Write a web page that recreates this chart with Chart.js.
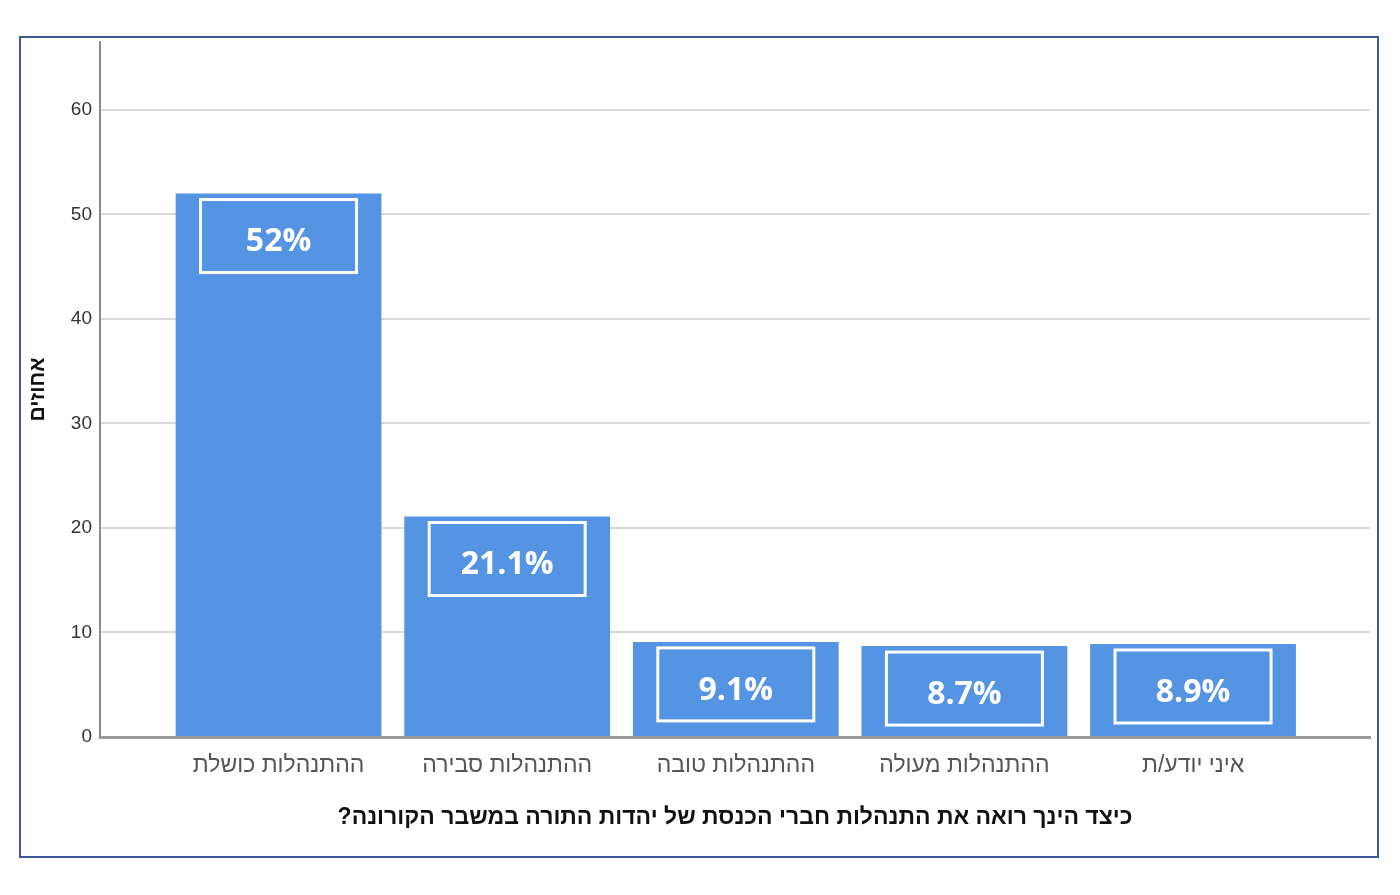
<!DOCTYPE html>
<html>
<head>
<meta charset="utf-8">
<script src="https://cdn.jsdelivr.net/npm/chart.js@4"></script>
<style>
  html, body { margin: 0; padding: 0; background: #fff; }
  #wrap { width: 1400px; height: 895px; position: relative; }
</style>
</head>
<body>
<div id="wrap"><canvas id="chart" dir="rtl" width="1400" height="895"></canvas></div>
<script>
const categories = ['ההתנהלות כושלת', 'ההתנהלות סבירה', 'ההתנהלות טובה', 'ההתנהלות מעולה', 'איני יודע/ת'];
const percents = [52, 21.1, 9.1, 8.7, 8.9];
const yTicks = [0, 10, 20, 30, 40, 50, 60];
const xTitle = 'כיצד הינך רואה את התנהלות חברי הכנסת של יהדות התורה במשבר הקורונה?';
const yTitle = 'אחוזים';

const hebFont = "'Liberation Sans Narrow', 'Liberation Sans', Arial, 'DejaVu Sans', sans-serif";

const frame = {
  id: 'frame',
  beforeDraw(chart) {
    const c = chart.ctx;
    c.save();
    c.strokeStyle = '#3b5a96';
    c.lineWidth = 2;
    c.strokeRect(20, 37, 1358, 820);
    c.restore();
  },
};

const boxLabels = {
  id: 'boxLabels',
  afterDatasetsDraw(chart) {
    const c = chart.ctx;
    const bars = chart.getDatasetMeta(0).data;
    c.save();
    bars.forEach((bar, i) => {
      const w = 156, h = 73;
      const top = bar.y + 6;
      c.strokeStyle = '#fff';
      c.lineWidth = 3;
      c.strokeRect(bar.x - w / 2, top, w, h);
      c.fillStyle = '#fff';
      c.font = "bold 32px 'Open Sans', sans-serif";
      c.textAlign = 'center';
      c.textBaseline = 'middle';
      c.fillText(percents[i] + '%', bar.x, top + h / 2 + 6);
    });
    c.restore();
  },
};

new Chart(document.getElementById('chart'), {
  type: 'bar',
  data: {
    datasets: [{
      data: percents.map((v, i) => ({ x: i, y: v })),
      backgroundColor: '#5494e2',
      borderWidth: 0,
      barPercentage: 0.9,
      categoryPercentage: 1,
    }],
  },
  options: {
    responsive: false,
    animation: false,
    events: [],
    layout: { padding: { top: 42, right: 30, bottom: 0, left: 0 } },
    plugins: { legend: { display: false }, tooltip: { enabled: false } },
    scales: {
      x: {
        type: 'linear',
        offset: false,
        min: -0.781,
        max: 4.774,
        afterBuildTicks: (s) => { s.ticks = categories.map((_, i) => ({ value: i })); },
        afterFit: (s) => { s.height = 158; },
        grid: { display: false, drawTicks: false },
        border: { display: true, color: '#9a9a9a', width: 3 },
        ticks: {
          autoSkip: false,
          maxRotation: 0,
          padding: 15,
          color: '#555',
          font: { family: hebFont, size: 23 },
          callback: (v) => categories[v],
        },
        title: {
          display: true,
          text: xTitle,
          color: '#111',
          font: { family: hebFont, size: 23, weight: 'bold' },
          padding: { top: 0, bottom: 64 },
        },
      },
      y: {
        min: 0,
        max: 66.5,
        afterBuildTicks: (s) => { s.ticks = yTicks.map((v) => ({ value: v })); },
        afterFit: (s) => { s.width = 100; },
        grid: { color: '#d9d9d9', lineWidth: 2, drawTicks: false },
        border: { display: true, color: '#8a8a8a', width: 2 },
        ticks: {
          padding: 8,
          color: '#333',
          font: { family: hebFont, size: 19 },
        },
        title: {
          display: true,
          text: yTitle,
          color: '#111',
          font: { family: hebFont, size: 21, weight: 'bold' },
          padding: { top: 26 },
        },
      },
    },
  },
  plugins: [frame, boxLabels],
});
</script>
</body>
</html>
